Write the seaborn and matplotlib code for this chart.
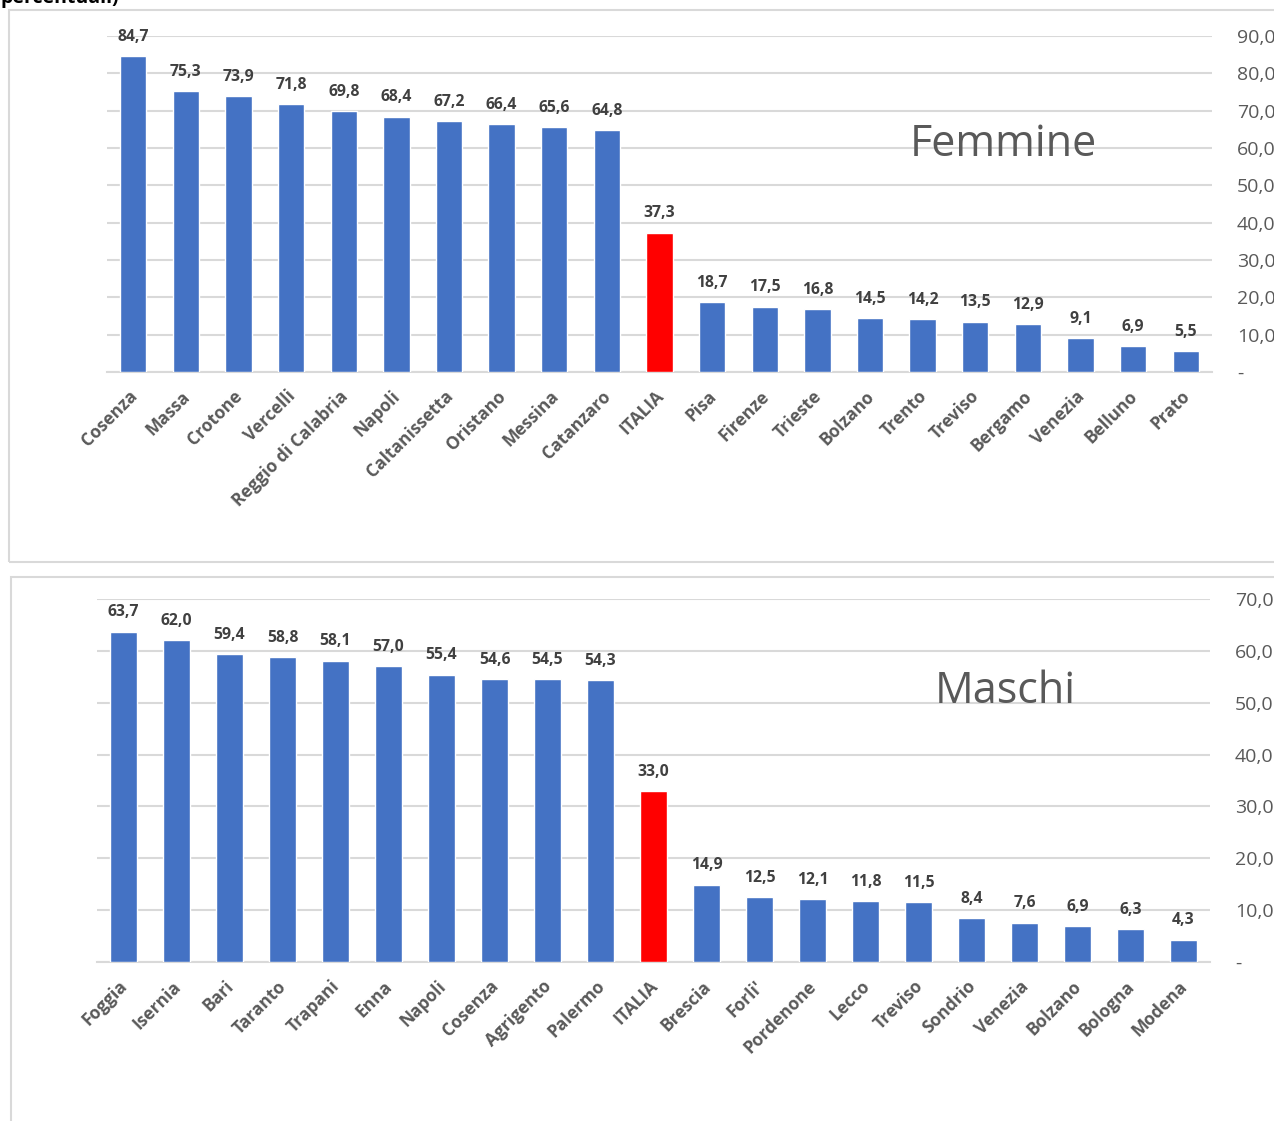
import matplotlib
matplotlib.use("Agg")
import matplotlib.pyplot as plt
import seaborn as sns
from matplotlib.patches import Rectangle
from matplotlib.ticker import FuncFormatter
from matplotlib.transforms import ScaledTranslation

sns.set_theme(style="white")
plt.rcParams['font.family'] = ['Open Sans', 'DejaVu Sans']

fem_cats = ["Cosenza", "Massa", "Crotone", "Vercelli", "Reggio di Calabria", "Napoli",
            "Caltanissetta", "Oristano", "Messina", "Catanzaro", "ITALIA", "Pisa", "Firenze",
            "Trieste", "Bolzano", "Trento", "Treviso", "Bergamo", "Venezia", "Belluno", "Prato"]
fem_vals = [84.7, 75.3, 73.9, 71.8, 69.8, 68.4, 67.2, 66.4, 65.6, 64.8, 37.3, 18.7, 17.5,
            16.8, 14.5, 14.2, 13.5, 12.9, 9.1, 6.9, 5.5]

mas_cats = ["Foggia", "Isernia", "Bari", "Taranto", "Trapani", "Enna", "Napoli", "Cosenza",
            "Agrigento", "Palermo", "ITALIA", "Brescia", "Forli'", "Pordenone", "Lecco",
            "Treviso", "Sondrio", "Venezia", "Bolzano", "Bologna", "Modena"]
mas_vals = [63.7, 62.0, 59.4, 58.8, 58.1, 57.0, 55.4, 54.6, 54.5, 54.3, 33.0, 14.9, 12.5,
            12.1, 11.8, 11.5, 8.4, 7.6, 6.9, 6.3, 4.3]

fem_ticks = [0, 10, 20, 30, 40, 50, 60, 70, 80, 90]
mas_ticks = [0, 10, 20, 30, 40, 50, 60, 70]

BLUE = "#4472C4"
RED = "#FF0000"
GRID = "#D9D9D9"
W, H = 1274, 1121

fig = plt.figure(figsize=(W / 100, H / 100), dpi=100)

# panel borders
fig.patches.append(Rectangle((9 / W, 1 - 562 / H), (W + 20 - 9) / W, (562 - 10) / H,
                             transform=fig.transFigure, fill=False, edgecolor=GRID, lw=1.5))
fig.patches.append(Rectangle((11 / W, -0.05), (W + 20 - 11) / W, 1 - 577 / H + 0.05,
                             transform=fig.transFigure, fill=False, edgecolor=GRID, lw=1.5))

fig.text(0.0, 1 - 3 / H, "percentuali)", fontsize=14, fontweight="bold", color="black",
         ha="left", va="baseline")


def fmt(v, pos=None):
    if v == 0:
        return "-"
    return f"{v:.1f}".replace(".", ",")


def panel(rect, cats, vals, ticks, title, title_xy):
    ax = fig.add_axes(rect)
    colors = [RED if c == "ITALIA" else BLUE for c in cats]
    sns.barplot(x=cats, y=vals, hue=cats, palette=colors, legend=False, width=0.5,
                saturation=1, ax=ax, zorder=3)
    ax.set_xlim(-0.5, len(cats) - 0.5)
    ax.set_ylim(0, ticks[-1])
    ax.set_yticks(ticks)
    ax.yaxis.set_major_formatter(FuncFormatter(fmt))
    ax.yaxis.tick_right()
    ax.tick_params(axis="y", length=0, pad=18, labelsize=14, labelcolor="#595959")
    ax.tick_params(axis="x", length=0, pad=11)
    ax.grid(axis="y", color=GRID, lw=1.5, zorder=0)
    ax.set_axisbelow(True)
    for s in ["top", "right", "left"]:
        ax.spines[s].set_visible(False)
    ax.spines["bottom"].set_color(GRID)
    ax.spines["bottom"].set_linewidth(1.5)
    ax.set_xlabel("")
    ax.set_ylabel("")
    ax.set_xticks(range(len(cats)))
    ax.set_xticklabels(cats, rotation=45, ha="right", rotation_mode="anchor",
                       fontsize=12.5, fontweight="bold", color="#595959")
    shift = ScaledTranslation(-5 / 100, 0, fig.dpi_scale_trans)
    for lbl in ax.get_xticklabels():
        lbl.set_transform(lbl.get_transform() + shift)
    for i, v in enumerate(vals):
        ax.annotate(fmt(v), (i, v), xytext=(0, 11), textcoords="offset points",
                    ha="center", va="baseline", fontsize=11.3, fontweight="bold",
                    color="#404040")
    ax.text(title_xy[0], title_xy[1], title, transform=fig.transFigure, fontsize=31,
            color="#595959", ha="center", va="center")
    ax.set_facecolor("none")
    return ax


panel([107 / W, 1 - 372 / H, (1212 - 107) / W, (372 - 36) / H], fem_cats, fem_vals,
      fem_ticks, "Femmine", (1003 / W, 1 - 145 / H))
panel([97 / W, 1 - 962 / H, (1210 - 97) / W, (962 - 599) / H], mas_cats, mas_vals,
      mas_ticks, "Maschi", (1005 / W, 1 - 692 / H))

fig.savefig("out.png", dpi=100)
